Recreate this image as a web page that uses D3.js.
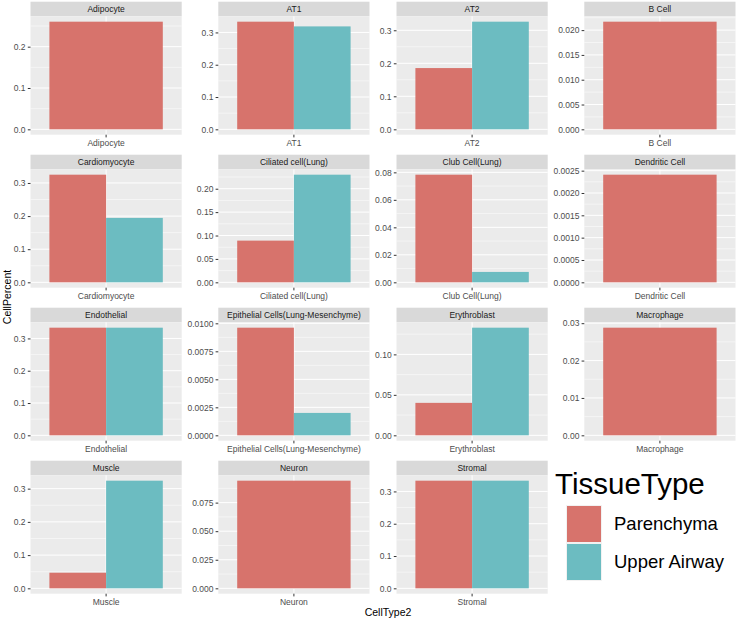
<!DOCTYPE html>
<html>
<head>
<meta charset="utf-8">
<script src="https://cdn.jsdelivr.net/npm/d3@7"></script>
<style>
  html, body { margin: 0; padding: 0; background: #ffffff; }
  svg { display: block; font-family: "Liberation Sans", Arial, Helvetica, sans-serif; }
</style>
</head>
<body>
<svg id="chart" width="736" height="619"></svg>
<script>
// ---------------- data ----------------
const categories = [
  "Adipocyte", "AT1", "AT2", "B Cell",
  "Cardiomyocyte", "Ciliated cell(Lung)", "Club Cell(Lung)", "Dendritic Cell",
  "Endothelial", "Epithelial Cells(Lung-Mesenchyme)", "Erythroblast", "Macrophage",
  "Muscle", "Neuron", "Stromal"
];
const seriesNames = ["Parenchyma", "Upper Airway"];
const parenchyma = [
  0.2605, 0.3333, 0.1855, 0.0217,
  0.325, 0.0891, 0.0783, 0.00241,
  0.3333, 0.00961, 0.0401, 0.0288,
  0.047, 0.0942, 0.3333
];
const upperAirway = [
  null, 0.3187, 0.326, null,
  0.1945, 0.230, 0.00756, null,
  0.3333, 0.0020, 0.133, null,
  0.324, null, 0.3333
];
const tickValues = [
  [0, 0.1, 0.2], [0, 0.1, 0.2, 0.3], [0, 0.1, 0.2, 0.3], [0, 0.005, 0.010, 0.015, 0.020],
  [0, 0.1, 0.2, 0.3], [0, 0.05, 0.10, 0.15, 0.20], [0, 0.02, 0.04, 0.06, 0.08], [0, 0.0005, 0.0010, 0.0015, 0.0020, 0.0025],
  [0, 0.1, 0.2, 0.3], [0, 0.0025, 0.0050, 0.0075, 0.0100], [0, 0.05, 0.10], [0, 0.01, 0.02, 0.03],
  [0, 0.1, 0.2, 0.3], [0, 0.025, 0.050, 0.075], [0, 0.1, 0.2, 0.3]
];
const tickLabels = [
  ["0.0", "0.1", "0.2"], ["0.0", "0.1", "0.2", "0.3"], ["0.0", "0.1", "0.2", "0.3"], ["0.000", "0.005", "0.010", "0.015", "0.020"],
  ["0.0", "0.1", "0.2", "0.3"], ["0.00", "0.05", "0.10", "0.15", "0.20"], ["0.00", "0.02", "0.04", "0.06", "0.08"], ["0.0000", "0.0005", "0.0010", "0.0015", "0.0020", "0.0025"],
  ["0.0", "0.1", "0.2", "0.3"], ["0.0000", "0.0025", "0.0050", "0.0075", "0.0100"], ["0.00", "0.05", "0.10"], ["0.00", "0.01", "0.02", "0.03"],
  ["0.0", "0.1", "0.2", "0.3"], ["0.000", "0.025", "0.050", "0.075"], ["0.0", "0.1", "0.2", "0.3"]
];
const colors = ["#D7736C", "#6CBCC1"];

// ---------------- layout ----------------
const svg = d3.select("#chart");
const colLeft = [30.5, 218.3, 396.5, 584.3];
const panelW = 151.2;
const stripTop0 = 1.7, rowStep = 153, stripH = 14.6, panelH = 118.4;
const color = d3.scaleOrdinal().domain(seriesNames).range(colors);

categories.forEach((cat, i) => {
  const col = i % 4, row = Math.floor(i / 4);
  const x0 = colLeft[col];
  const sTop = stripTop0 + row * rowStep;
  const pTop = sTop + stripH;
  const pBot = pTop + panelH;

  const vals = [
    { s: seriesNames[0], v: parenchyma[i] },
    { s: seriesNames[1], v: upperAirway[i] }
  ].filter(d => d.v !== null);
  const maxV = d3.max(vals, d => d.v);

  const y = d3.scaleLinear().domain([-0.05 * maxV, 1.05 * maxV]).range([pBot, pTop]);
  const xb = d3.scaleBand().domain([cat]).range([x0, x0 + panelW]).paddingInner(0).paddingOuter(1 / 6);
  const xs = d3.scaleBand().domain(vals.map(d => d.s)).range([xb(cat), xb(cat) + xb.bandwidth()]).padding(0);

  const g = svg.append("g");
  // strip
  g.append("rect").attr("x", x0).attr("y", sTop).attr("width", panelW).attr("height", stripH).attr("fill", "#D9D9D9");
  g.append("text").attr("x", x0 + panelW / 2).attr("y", sTop + stripH / 2).attr("dy", "0.35em")
    .attr("text-anchor", "middle").attr("font-size", 8.5).attr("fill", "#1A1A1A").text(cat);
  // panel background
  g.append("rect").attr("x", x0).attr("y", pTop).attr("width", panelW).attr("height", panelH).attr("fill", "#EBEBEB");

  // minor grid
  const tv = tickValues[i];
  const step = tv[1] - tv[0];
  const dom = y.domain();
  const minors = [];
  for (let k = 0; k < tv.length; k++) {
    const m = tv[k] + step / 2;
    if (m <= dom[1]) minors.push(m);
  }
  if (tv[0] - step / 2 >= dom[0]) minors.push(tv[0] - step / 2);
  g.selectAll(".minor").data(minors).join("line")
    .attr("x1", x0).attr("x2", x0 + panelW)
    .attr("y1", d => y(d)).attr("y2", d => y(d))
    .attr("stroke", "#FFFFFF").attr("stroke-width", 0.5);
  g.selectAll(".major").data(tv).join("line")
    .attr("x1", x0).attr("x2", x0 + panelW)
    .attr("y1", d => y(d)).attr("y2", d => y(d))
    .attr("stroke", "#FFFFFF").attr("stroke-width", 1);
  g.append("line")
    .attr("x1", xb(cat) + xb.bandwidth() / 2).attr("x2", xb(cat) + xb.bandwidth() / 2)
    .attr("y1", pTop).attr("y2", pBot)
    .attr("stroke", "#FFFFFF").attr("stroke-width", 1);

  // bars
  g.selectAll(".bar").data(vals).join("rect")
    .attr("x", d => xs(d.s)).attr("width", xs.bandwidth())
    .attr("y", d => y(d.v)).attr("height", d => y(0) - y(d.v))
    .attr("fill", d => color(d.s));

  // y axis
  const ya = g.append("g").attr("transform", `translate(${x0},0)`)
    .call(d3.axisLeft(y).tickValues(tv).tickFormat((d, k) => tickLabels[i][k]).tickSize(2.7).tickPadding(2.2));
  ya.select(".domain").remove();
  ya.selectAll("line").attr("stroke", "#333333").attr("stroke-width", 1);
  ya.selectAll("text").attr("font-size", 8.5).attr("fill", "#4D4D4D").attr("font-family", "Liberation Sans, Arial, sans-serif");

  // x axis
  const xa = g.append("g").attr("transform", `translate(0,${pBot})`)
    .call(d3.axisBottom(xb).tickSize(2.7).tickPadding(2.2));
  xa.select(".domain").remove();
  xa.selectAll("line").attr("stroke", "#333333").attr("stroke-width", 1);
  xa.selectAll("text").attr("font-size", 8.5).attr("fill", "#4D4D4D").attr("font-family", "Liberation Sans, Arial, sans-serif");
});

// axis titles
svg.append("text").attr("x", 388).attr("y", 616).attr("text-anchor", "middle")
  .attr("font-size", 10.5).attr("fill", "#000").text("CellType2");
svg.append("text").attr("transform", "translate(11,297) rotate(-90)").attr("text-anchor", "middle")
  .attr("font-size", 10.5).attr("fill", "#000").text("CellPercent");

// legend
const lg = svg.append("g");
lg.append("text").attr("x", 555).attr("y", 494).attr("font-size", 29.5).attr("fill", "#000").text("TissueType");
seriesNames.forEach((s, k) => {
  const ky = 505 + k * 38;
  lg.append("rect").attr("x", 566).attr("y", ky).attr("width", 36).attr("height", 38).attr("fill", "#F2F2F2");
  lg.append("rect").attr("x", 567).attr("y", ky + 1).attr("width", 34).attr("height", 36).attr("fill", color(s));
  lg.append("text").attr("x", 614).attr("y", ky + 19).attr("dy", "0.35em")
    .attr("font-size", 18.5).attr("fill", "#000").text(s);
});
</script>
</body>
</html>
